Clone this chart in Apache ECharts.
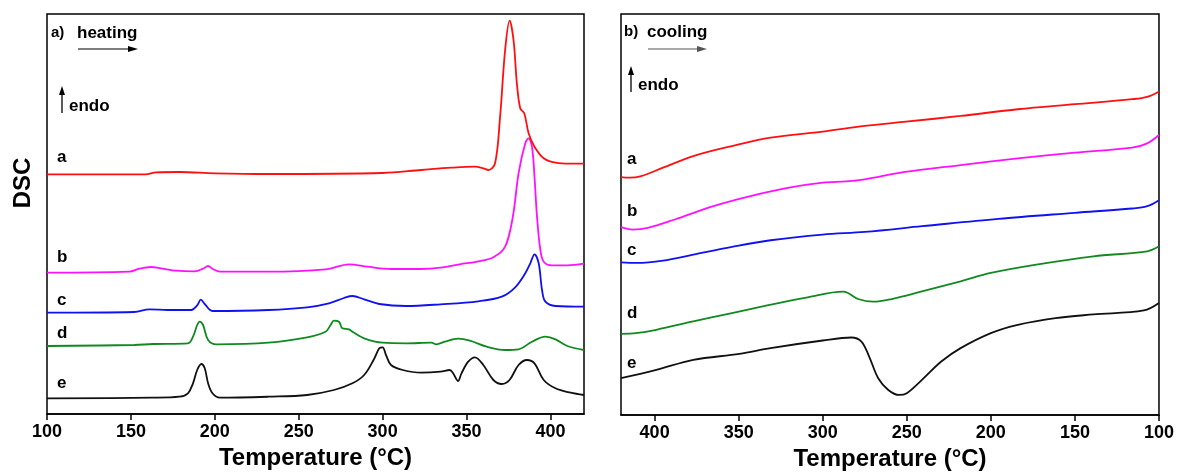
<!DOCTYPE html>
<html>
<head>
<meta charset="utf-8">
<script src="https://cdn.jsdelivr.net/npm/echarts@6/dist/echarts.min.js"></script>
<style>
html,body{margin:0;padding:0;background:#fff;}
#chart{width:1177px;height:476px;}
</style>
</head>
<body>
<div id="chart"></div>
<script>
// ---- Data (temperature °C, DSC signal in arbitrary units, curves offset vertically) ----
const heatTicks = [100, 150, 200, 250, 300, 350, 400];
const coolTicks = [100, 150, 200, 250, 300, 350, 400];
const curveNames = ['a', 'b', 'c', 'd', 'e'];
const curveColors = ['#ff1010', '#ff10ff', '#1010f0', '#108a20', '#111111'];

const heatA = [[100,239.7],[158.6,239.7],[165,241.7],[179,242],[200,240.7],[232,240],[300,241],[323,244],[341,246.3],[355,247.3],[360,245.7],[363,244],[367,250.7],[370,297.3],[373,364],[375.7,393.3],[378,374],[380,330.7],[382,305.7],[384.4,300.7],[387,280.7],[390.5,267.3],[396,255.7],[403,251.3],[412,250.3],[420,250.3]];
const heatB = [[100,141.3],[149,142.3],[155,145.3],[162,147],[168,145.7],[177,143.3],[188,142.7],[193,145.3],[196,148],[198.6,145.3],[203,142.3],[232,142.3],[266,144.7],[280,149.7],[291,147.3],[305,145],[323,145],[334.5,146.3],[346,149.7],[357,152.7],[366,156.7],[373,167.3],[377.6,197.3],[381,240.7],[385,270.7],[387,275.7],[389,267.3],[390.5,237.3],[392,197.3],[394,164],[396,152.3],[401,148.7],[410,148.7],[420,150.3]];
const heatC = [[100,101.3],[152,102],[161,104.7],[172,104],[186,104],[189.5,108.7],[191.7,114.3],[194,110],[198.6,103],[232,104],[255,106.7],[268,110.7],[277,116],[282,118],[289,114.7],[298,110],[314,108],[334.5,109.7],[357,112.7],[371,117.3],[379,126.7],[385,140.7],[388,150.7],[390.5,159.7],[393,150.7],[395,124],[397,112.3],[403,108],[420,107.3]];
const heatD = [[100,68],[152,69],[163,70],[184,70.7],[187,77.3],[189.5,89],[191,92.3],[193,89],[196,74],[201,69.7],[232,71.3],[255,76.7],[266,82.3],[269,89],[271,93.3],[274,92.3],[276,85.7],[280,84.7],[282,82.3],[289,75.7],[300,71.3],[314,70.7],[329,71.3],[332,69.7],[337,72.3],[345,75.3],[352,73.3],[362,67.3],[373,64],[381,64.7],[389,72.3],[397,77.3],[403,74.7],[410,68],[420,64]];
const heatE = [[100,15.7],[163,16.3],[179,17.3],[184,20.7],[187,30.7],[189.5,44],[192,50],[194,45.7],[196,30.7],[198.6,20.7],[203,16.3],[232,17.3],[255,19],[271,24],[282,30.7],[289,39],[294.6,54],[298,65.7],[300,66.7],[302,59],[305,49],[312,44],[323,41.3],[334.5,42.3],[340,44],[342,40.7],[345,33],[347,40.7],[351,52.3],[355,56.7],[360,49],[366,34],[371,30],[375.6,34],[381,49],[386,54],[390.5,50.7],[396,34],[403,25.7],[412,21.3],[420,19]];

const coolA = [[420,237.3],[415,236.7],[408,238.3],[395,246.7],[377,258.3],[354,268.3],[331,276.7],[300,282.7],[275,288.3],[252,292.3],[218,298.3],[184,305],[150,310],[116,315],[107,317.3],[100,322.7]];
const coolB = [[420,187.3],[413,185],[404,186.7],[388,195],[365,208.3],[343,218.3],[320,226.7],[300,231.7],[286,233],[275,235],[252,242.3],[218,249.3],[184,256],[150,261.7],[116,266.7],[107,271],[100,279.3]];
const coolC = [[420,152.3],[410.6,151.7],[395,154],[377,160],[354,167.7],[331,174.3],[300,180],[275,182.7],[241,188.3],[195.6,195.7],[150,201.7],[116,206],[107,208.3],[100,214.3]];
const coolD = [[420,81],[411,81.7],[399,85],[377,93.3],[354,101.7],[331,110],[309,117.3],[288,123],[285,121.7],[279,115.7],[270,113],[259,115.7],[241,123.3],[218,133.3],[200,141.7],[173,150],[139,158.3],[107,163.3],[100,168.3]];
const coolE = [[420,36.7],[399,45],[377,55],[349.5,61],[331,66.7],[300,74.3],[283,77.3],[277,73.3],[272.4,58.3],[267,36.7],[261,25],[254.6,20],[250,21.7],[241,35],[229.5,53.3],[218,66.7],[200,81.7],[184,90],[161.5,96.7],[139,100.3],[109,104.3],[100,111.7]];

const heatSeries = [heatA, heatB, heatC, heatD, heatE];
const coolSeries = [coolA, coolB, coolC, coolD, coolE];

// ---- Chart ----
const chart = echarts.init(document.getElementById('chart'), null, {renderer: 'canvas'});
const FONT = 'Liberation Sans, Arial, sans-serif';

function xAxisDef(gridIndex, inverse, ticks) {
  return {
    type: 'value', gridIndex: gridIndex, min: 100, max: 420, interval: 50, inverse: inverse,
    name: 'Temperature (°C)', nameLocation: 'middle', nameGap: 29,
    nameTextStyle: {fontFamily: FONT, fontWeight: 'bold', fontSize: 24, color: '#000'},
    axisLine: {show: true, onZero: false, lineStyle: {color: '#000', width: 1.5}},
    axisTick: {show: true, inside: false, length: 6, customValues: ticks, lineStyle: {color: '#000', width: 1.5}},
    axisLabel: {show: true, margin: 9, customValues: ticks, fontFamily: FONT, fontWeight: 'bold', fontSize: 18, color: '#000'},
    splitLine: {show: false}
  };
}
function yAxisDef(gridIndex) {
  return {type: 'value', gridIndex: gridIndex, min: 0, max: 400, show: false, splitLine: {show: false}};
}

const series = [];
heatSeries.forEach((d, i) => series.push({
  type: 'line', name: 'heat-' + curveNames[i], xAxisIndex: 0, yAxisIndex: 0, data: d,
  showSymbol: false, smooth: 0.35, lineStyle: {color: curveColors[i], width: 1.8}, silent: true, z: 5 - i
}));
coolSeries.forEach((d, i) => series.push({
  type: 'line', name: 'cool-' + curveNames[i], xAxisIndex: 1, yAxisIndex: 1, data: d,
  showSymbol: false, smooth: 0.35, lineStyle: {color: curveColors[i], width: 1.8}, silent: true
}));

function txt(x, y, s, size, extra) {
  return Object.assign({type: 'text', x: x, y: y, style: {text: s, fontFamily: FONT, fontWeight: 'bold', fontSize: size, fill: '#000', textVerticalAlign: 'middle', verticalAlign: 'middle'}}, extra || {});
}
function hArrow(x1, x2, y, color) {
  return [
    {type: 'line', shape: {x1: x1, y1: y, x2: x2 - 6, y2: y}, style: {stroke: color, lineWidth: 1.2}},
    {type: 'polygon', shape: {points: [[x2, y], [x2 - 10, y - 3], [x2 - 10, y + 3]]}, style: {fill: color}}
  ];
}
function vArrow(x, yTop, yBot) {
  return [
    {type: 'line', shape: {x1: x, y1: yTop + 5, x2: x, y2: yBot}, style: {stroke: '#000', lineWidth: 1.3}},
    {type: 'polygon', shape: {points: [[x, yTop], [x - 3, yTop + 9], [x + 3, yTop + 9]]}, style: {fill: '#000'}}
  ];
}

const leftLetterY = [157, 257, 300, 333, 383];
const rightLetterY = [159, 211, 250, 313, 363];

const graphic = [];
// DSC y-axis title
graphic.push({type: 'text', x: 23, y: 183, rotation: Math.PI / 2,
  style: {text: 'DSC', fontFamily: FONT, fontWeight: 'bold', fontSize: 24, fill: '#000', align: 'center', verticalAlign: 'middle'}});
// Panel a annotations
graphic.push(txt(51, 33, 'a)', 15));
graphic.push(txt(77, 33, 'heating', 17));
hArrow(78, 138, 49, '#000').forEach(g => graphic.push(g));
vArrow(62, 86, 113).forEach(g => graphic.push(g));
graphic.push(txt(69, 106, 'endo', 17));
leftLetterY.forEach((y, i) => graphic.push(txt(57, y, curveNames[i], 17)));
// Panel b annotations
graphic.push(txt(624, 32, 'b)', 15));
graphic.push(txt(647, 32, 'cooling', 17));
hArrow(648, 707, 49, '#555').forEach(g => graphic.push(g));
vArrow(631, 66, 92).forEach(g => graphic.push(g));
graphic.push(txt(638, 85, 'endo', 17));
rightLetterY.forEach((y, i) => graphic.push(txt(627, y, curveNames[i], 17)));

chart.setOption({
  animation: false,
  backgroundColor: '#fff',
  grid: [
    {left: 47, right: 593, top: 14, bottom: 62, show: true, borderColor: '#000', borderWidth: 1.5, containLabel: false},
    {left: 621, right: 18, top: 14, bottom: 61, show: true, borderColor: '#000', borderWidth: 1.5, containLabel: false}
  ],
  xAxis: [xAxisDef(0, false, heatTicks), xAxisDef(1, true, coolTicks)],
  yAxis: [yAxisDef(0), yAxisDef(1)],
  series: series,
  graphic: graphic
});
</script>
</body>
</html>
